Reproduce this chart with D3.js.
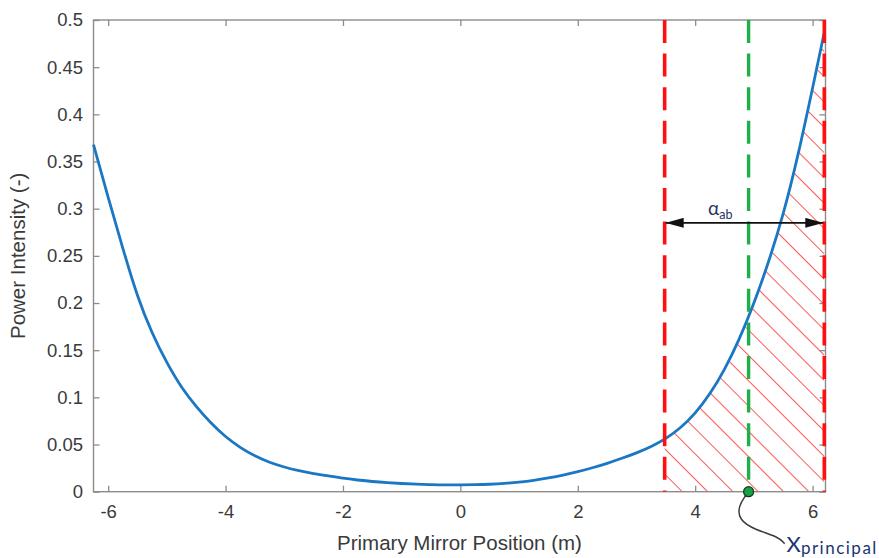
<!DOCTYPE html>
<html lang="en">
<head>
  <meta charset="UTF-8">
  <title>Power intensity vs primary mirror position</title>
  <script src="https://d3js.org/d3.v7.min.js"></script>
  <style>
    body { margin: 0; background: #fff; }
    svg { display: block; font-family: "Liberation Sans", Arial, sans-serif; }
    .tick text { fill: #3a3a3a; font-size: 18.5px; }
    .tick line { stroke: #8c8c8c; stroke-width: 1.3; }
  </style>
</head>
<body>
<div id="chart"></div>
<script>
  // curve, every 0.25 m
  const positions = [-6.25, -6, -5.75, -5.5, -5.25, -5, -4.75, -4.5, -4.25, -4, -3.75, -3.5, -3.25, -3,
    -2.75, -2.5, -2.25, -2, -1.75, -1.5, -1.25, -1, -0.75, -0.5, -0.25, 0,
    0.25, 0.5, 0.75, 1, 1.25, 1.5, 1.75, 2, 2.25, 2.5, 2.75, 3, 3.25, 3.5, 3.75,
    4, 4.25, 4.5, 4.75, 5, 5.25, 5.5, 5.75, 6, 6.2];
  const intensity = [0.368, 0.312, 0.258, 0.208, 0.1685, 0.137, 0.111, 0.0905, 0.0730, 0.0585, 0.0470, 0.0380, 0.0312, 0.0262,
    0.0223, 0.0192, 0.0167, 0.0143, 0.0124, 0.0108, 0.0096, 0.0087, 0.0080, 0.0075, 0.0072, 0.0072,
    0.0074, 0.0079, 0.0088, 0.0102, 0.0121, 0.0146, 0.0176, 0.0212, 0.0254, 0.0301, 0.0354, 0.0412, 0.0480, 0.0565, 0.0680,
    0.0835, 0.104, 0.130, 0.162, 0.200, 0.244, 0.295, 0.357, 0.428, 0.487];

  const xTicks = [-6, -4, -2, 0, 2, 4, 6];
  const yTicks = [0, 0.05, 0.1, 0.15, 0.2, 0.25, 0.3, 0.35, 0.4, 0.45, 0.5];
  const xDomain = [-6.25, 6.22];
  const yDomain = [0, 0.5];

  const boundaries = [3.48, 6.2];   // red dashed lines
  const principal = 4.91;           // green dashed line + dot
  const arrowLevel = 0.285;
  const alphaLabelPos = [4.22, 0.293];

  const xLabel = "Primary Mirror Position (m)";
  const yLabel = "Power Intensity (-)";

  const width = 879, height = 558;
  const margin = {top: 20, right: 53.5, bottom: 66.3, left: 93.5};
  const innerW = width - margin.left - margin.right;
  const innerH = height - margin.top - margin.bottom;

  const svg = d3.select("#chart").append("svg")
    .attr("width", width)
    .attr("height", height);

  const defs = svg.append("defs");

  const x = d3.scaleLinear().domain(xDomain).range([0, innerW]);
  const y = d3.scaleLinear().domain(yDomain).range([innerH, 0]);

  const g = svg.append("g").attr("transform", `translate(${margin.left},${margin.top})`);

  // hatch pattern, anchored on the baseline
  defs.append("pattern")
    .attr("id", "hatch")
    .attr("patternUnits", "userSpaceOnUse")
    .attr("width", 17.9)
    .attr("height", 17.9)
    .attr("patternTransform", `translate(${x(4.2)},${innerH}) rotate(-45)`)
    .append("line")
    .attr("x1", 0).attr("y1", -5).attr("x2", 0).attr("y2", 25)
    .attr("stroke", "#ff2e2e")
    .attr("stroke-width", 1.6);

  defs.append("clipPath").attr("id", "band")
    .append("rect")
    .attr("x", x(boundaries[0]))
    .attr("y", 0)
    .attr("width", x(boundaries[1]) - x(boundaries[0]))
    .attr("height", innerH);

  const pts = positions.map((p, i) => [p, intensity[i]]);

  const area = d3.area()
    .x(d => x(d[0]))
    .y0(y(0))
    .y1(d => y(d[1]))
    .curve(d3.curveNatural);

  g.append("path")
    .datum(pts)
    .attr("clip-path", "url(#band)")
    .attr("fill", "url(#hatch)")
    .attr("d", area);

  const fmt = d => String(d);

  // axes box + ticks (inward, on all sides)
  g.append("g")
    .attr("transform", `translate(0,${innerH})`)
    .call(d3.axisBottom(x).tickValues(xTicks).tickSizeInner(-6).tickSizeOuter(0).tickPadding(13.2).tickFormat(fmt))
    .call(a => a.select(".domain").remove());
  g.append("g")
    .call(d3.axisTop(x).tickValues(xTicks).tickSizeInner(-6).tickSizeOuter(0).tickFormat(""))
    .call(a => a.select(".domain").remove());
  g.append("g")
    .call(d3.axisLeft(y).tickValues(yTicks).tickSizeInner(-6).tickSizeOuter(0).tickPadding(10.5).tickFormat(fmt))
    .call(a => a.select(".domain").remove());
  g.append("g")
    .attr("transform", `translate(${innerW},0)`)
    .call(d3.axisRight(y).tickValues(yTicks).tickSizeInner(-6).tickSizeOuter(0).tickFormat(""))
    .call(a => a.select(".domain").remove());

  g.append("rect")
    .attr("width", innerW)
    .attr("height", innerH)
    .attr("fill", "none")
    .attr("stroke", "#8c8c8c")
    .attr("stroke-width", 1.4);

  // the curve
  const line = d3.line()
    .x(d => x(d[0]))
    .y(d => y(d[1]))
    .curve(d3.curveNatural);

  g.append("path")
    .datum(pts)
    .attr("fill", "none")
    .attr("stroke", "#1a77c4")
    .attr("stroke-width", 2.8)
    .attr("d", line);

  // dashed vertical lines
  g.selectAll(".bound")
    .data(boundaries)
    .join("line")
    .attr("class", "bound")
    .attr("x1", d => x(d)).attr("x2", d => x(d))
    .attr("y1", 0).attr("y2", innerH)
    .attr("stroke", "#ff1010")
    .attr("stroke-width", 3.6)
    .attr("stroke-dasharray", "23,10.6");

  g.append("line")
    .attr("x1", x(principal)).attr("x2", x(principal))
    .attr("y1", 0).attr("y2", innerH)
    .attr("stroke", "#1fb04c")
    .attr("stroke-width", 3.4)
    .attr("stroke-dasharray", "23,10.6");

  // double arrow
  defs.append("marker")
    .attr("id", "head")
    .attr("markerUnits", "userSpaceOnUse")
    .attr("viewBox", "0 0 18 10")
    .attr("markerWidth", 18)
    .attr("markerHeight", 10)
    .attr("refX", 18)
    .attr("refY", 5)
    .attr("orient", "auto-start-reverse")
    .append("path")
    .attr("d", "M0,0L18,5L0,10Z")
    .attr("fill", "#111");

  g.append("line")
    .attr("x1", x(boundaries[0]) + 1).attr("x2", x(boundaries[1]) - 1)
    .attr("y1", y(arrowLevel)).attr("y2", y(arrowLevel))
    .attr("stroke", "#111")
    .attr("stroke-width", 1.8)
    .attr("marker-start", "url(#head)")
    .attr("marker-end", "url(#head)");

  const alpha = g.append("text")
    .attr("x", x(alphaLabelPos[0]))
    .attr("y", y(alphaLabelPos[1]))
    .attr("fill", "#2a3560")
    .style("font-family", "Lato, 'Liberation Sans', sans-serif")
    .style("font-size", "19px");
  alpha.append("tspan").text("α");
  alpha.append("tspan").attr("dy", 3.5).style("font-size", "12.5px").text("ab");

  // principal point + connector + label
  const px = x(principal), py = y(0);
  const connector = [[px - 3, py + 4], [px - 10, py + 14], [px - 10, py + 28], [px + 6, py + 38], [px + 30, py + 45], [px + 36, py + 52]];
  g.append("path")
    .attr("d", d3.line().curve(d3.curveBasis)(connector))
    .attr("fill", "none")
    .attr("stroke", "#3d3d3d")
    .attr("stroke-width", 1.5);

  g.append("circle")
    .attr("cx", px).attr("cy", py)
    .attr("r", 5)
    .attr("fill", "#17a046")
    .attr("stroke", "#0c3a1a")
    .attr("stroke-width", 1.2);

  const xp = g.append("text")
    .attr("x", px + 38)
    .attr("y", py + 60.3)
    .attr("fill", "#1c3570")
    .style("font-family", "Lato, 'Liberation Sans', sans-serif");
  xp.append("tspan").style("font-size", "22px").text("X");
  xp.append("tspan").attr("dy", 1.5).style("font-size", "17px")
    .attr("letter-spacing", "1.5px").text("principal");

  // axis labels
  svg.append("text")
    .attr("x", margin.left + innerW / 2)
    .attr("y", 550)
    .attr("text-anchor", "middle")
    .attr("fill", "#3a3a3a")
    .style("font-size", "20.5px")
    .text(xLabel);

  svg.append("text")
    .attr("transform", `translate(25,${margin.top + innerH / 2}) rotate(-90)`)
    .attr("text-anchor", "middle")
    .attr("fill", "#3a3a3a")
    .style("font-size", "20.5px")
    .text(yLabel);
</script>
</body>
</html>
